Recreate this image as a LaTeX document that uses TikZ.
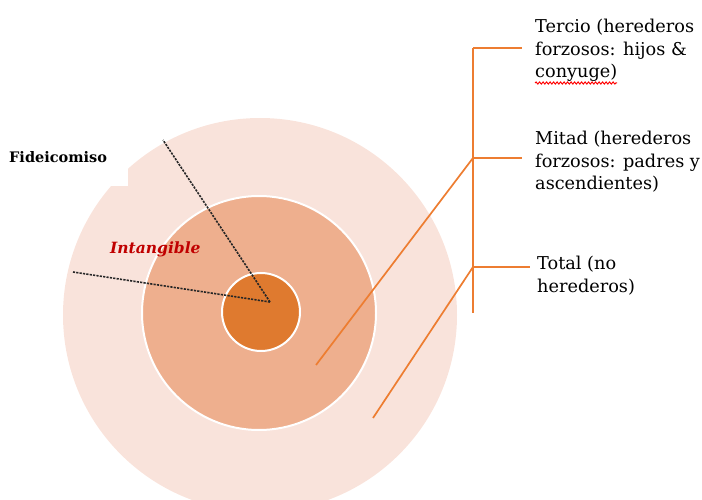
\documentclass[tikz,border=0pt]{standalone}
\usepackage{fontspec}
\setmainfont{DejaVu Serif}
\usetikzlibrary{decorations.pathmorphing}
\definecolor{ringouter}{HTML}{F9E3DB}
\definecolor{ringmid}{HTML}{EEAF8E}
\definecolor{ringcore}{HTML}{DF7A2F}
\definecolor{linkorange}{HTML}{ED7D31}
\definecolor{labelred}{HTML}{C00000}
\tikzset{
  ring/.style={circle, inner sep=0pt, minimum size=#1},
  legend/.style={anchor=north west, inner sep=0pt, align=left,
    font=\fontsize{17.7}{22.5}\selectfont},
  link/.style={draw=linkorange, line width=1.7pt},
  sector/.style={draw=black!85, line width=1.6pt, dash pattern=on 2.2pt off 1.2pt},
}
\begin{document}
\begin{tikzpicture}[x=1pt, y=-1pt]
\useasboundingbox (0,0) rectangle (702,500);
\clip (0,0) rectangle (702,500);

% concentric rings
\node[ring=394pt, fill=ringouter] (outer) at (260,315) {};
% box of the Fideicomiso label cuts into the outer ring
\fill[white] (0,100) rectangle (128,186);
\node[ring=234pt, fill=ringmid, draw=white, line width=2pt] (middle) at (259,313) {};
\node[ring=78pt, fill=ringcore, draw=white, line width=2pt] (core) at (261,312) {};

% sector boundaries
\coordinate (apex) at (270,302);
\coordinate (rayA) at (163,140);
\coordinate (rayB) at (73,272);
\draw[sector] (apex) -- (rayA);
\draw[sector] (apex) -- (rayB);

% labels on the rings
\node[anchor=base west, inner sep=0pt, font=\fontsize{14.5}{16}\selectfont\bfseries]
  (fideicomiso) at (9,163) {Fideicomiso};
\node[anchor=base west, inner sep=0pt, text=labelred,
  font=\fontsize{15.5}{17}\selectfont\bfseries\itshape]
  (intangible) at (110,253) {Intangible};

% legend texts
\node[legend] (tercio) at (535,19) {Tercio (herederos\\forzosos: hijos \&\\conyuge)};
\node[legend] (mitad) at (535,131) {Mitad (herederos\\forzosos: padres y\\ascendientes)};
\node[legend] (total) at (537,256) {Total (no\\herederos)};
\draw[red, line width=1pt, decorate,
  decoration={snake, amplitude=1pt, segment length=3.5pt}]
  (535,83) -- (617,83);

% bracket with branches
\coordinate (btop) at (473,48);
\coordinate (bmid) at (473,158);
\coordinate (blow) at (473,267);
\coordinate (bend) at (473,313);
\coordinate (tTercio) at (522,48);
\coordinate (tMitad) at (522,158);
\coordinate (tTotal) at (530,267);
\draw[link] (btop) -- (bend);
\draw[link] (btop) -- (tTercio);
\draw[link] (bmid) -- (tMitad);
\draw[link] (blow) -- (tTotal);

% leaders from the rings
\coordinate (inMiddle) at (316,365);
\coordinate (inOuter) at (373,418);
\draw[link] (inMiddle) -- (bmid);
\draw[link] (inOuter) -- (blow);
\end{tikzpicture}
\end{document}
